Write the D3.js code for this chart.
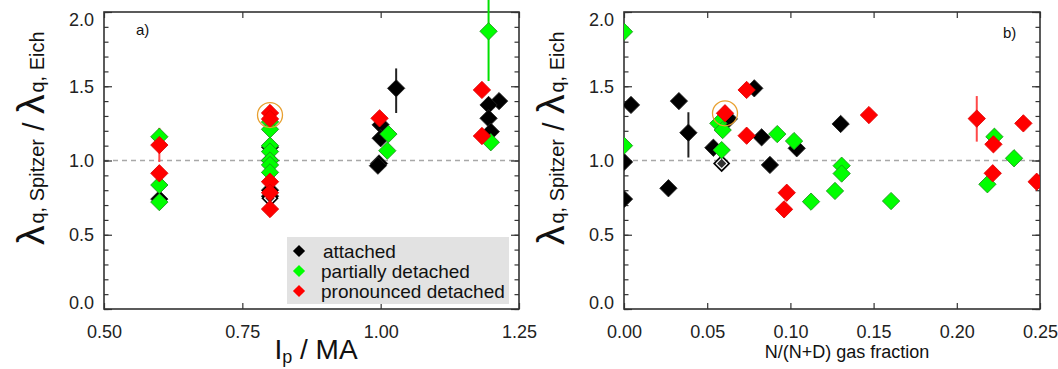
<!DOCTYPE html>
<html>
<head>
<meta charset="utf-8">
<script src="https://cdn.jsdelivr.net/npm/d3@7"></script>
<style>
  body { margin: 0; background: #fff; }
  svg { display: block; }
</style>
</head>
<body>
<div id="chart"></div>
<script>

// Data: [x, lambda ratio]

// panel a) : plasma current Ip / MA
var attachedA = [
    [0.60, 0.74],
    [0.80, 1.09], [0.80, 1.00], [0.80, 0.80], [0.80, 0.76],
    [0.997, 0.98], [0.995, 0.965], [1.00, 1.24], [1.00, 1.15], [1.028, 1.486],
    [1.214, 1.40], [1.195, 1.374], [1.195, 1.284], [1.199, 1.194]
];
var attachedOpenA = [[0.80, 0.745]];
var partialA = [
    [0.60, 1.16], [0.60, 0.835], [0.60, 0.72],
    [0.80, 1.26], [0.80, 1.21], [0.80, 1.10], [0.80, 1.06], [0.80, 1.00], [0.80, 0.97], [0.80, 0.92],
    [1.014, 1.178], [1.012, 1.066],
    [1.195, 1.87], [1.199, 1.123]
];
var pronouncedA = [
    [0.60, 1.104], [0.60, 0.914],
    [0.80, 1.32], [0.80, 1.28], [0.80, 0.857], [0.80, 0.783], [0.80, 0.673],
    [0.998, 1.284],
    [1.183, 1.475], [1.183, 1.165]
];
// error bars: [x, low, high, class]
var errorsA = [
    [0.60, 0.99, 1.22, "pronounced"],
    [1.028, 1.32, 1.62, "attached"],
    [1.195, 1.535, 2.10, "partial"]
];
var highlightA = [0.80, 1.306];

// panel b) : N/(N+D) gas fraction
var attachedB = [
    [0.0, 0.99], [0.0, 0.74], [0.0042, 1.374], [0.033, 1.40], [0.0267, 0.813],
    [0.0387, 1.187], [0.0537, 1.086], [0.063, 1.28], [0.0783, 1.486], [0.0827, 1.156],
    [0.0877, 0.97], [0.1038, 1.082], [0.1302, 1.246]
];
var attachedOpenB = [[0.0587, 0.98]];
var partialB = [
    [0.0, 1.867], [0.0, 1.10], [0.0567, 1.25], [0.0593, 1.205], [0.0587, 1.07],
    [0.0921, 1.178], [0.1022, 1.131], [0.1124, 0.723], [0.1268, 0.795],
    [0.1308, 0.965], [0.1308, 0.912], [0.1605, 0.727],
    [0.2226, 1.16], [0.2344, 1.015], [0.2184, 0.84]
];
var pronouncedB = [
    [0.0607, 1.318], [0.0737, 1.475], [0.0737, 1.167], [0.0978, 0.783], [0.0962, 0.671],
    [0.1472, 1.306], [0.212, 1.282], [0.222, 1.109], [0.2216, 0.914], [0.240, 1.25], [0.248, 0.857]
];
var errorsB = [
    [0.0387, 1.02, 1.325, "attached"],
    [0.212, 1.127, 1.434, "pronounced"]
];
var highlightB = [0.0607, 1.318];

// ticks
var yTicks = [0.0, 0.5, 1.0, 1.5, 2.0];
var xTicksA = [0.50, 0.75, 1.00, 1.25];
var xTicksB = [0.00, 0.05, 0.10, 0.15, 0.20, 0.25];
var legendLabels = ["attached", "partially detached", "pronounced detached"];

var fill = { attached: "#000000", partial: "#00ff00", pronounced: "#ff0000" };
var barColor = { attached: "#222222", partial: "#00e000", pronounced: "#ff4848" };

var font = "'Liberation Sans', Arial, sans-serif";

svgWidth = 1058;
svgHeight = 369;

svg = d3.select("#chart")
    .append("svg")
    .attr("width", svgWidth)
    .attr("height", svgHeight);

var diamond = d3.symbol().type(d3.symbolSquare).size(150);
var smallDiamond = d3.symbol().type(d3.symbolSquare).size(74);

function drawPanel(p) {

    var width = p.right - p.left;
    var height = 297;

    var g = svg.append("g")
        .attr("transform", `translate(${p.left}, 12)`);

    var x = d3.scaleLinear().domain(p.xDomain).range([0, width]);
    var y = d3.scaleLinear().domain([0, 2]).range([height, 0]);

    g.append("clipPath").attr("id", "clip" + p.id)
        .append("rect").attr("width", width).attr("height", height);

    // dashed reference line at 1.0
    g.append("line")
        .attr("x1", 0).attr("x2", width)
        .attr("y1", y(1)).attr("y2", y(1))
        .attr("stroke", "#a8a8a8")
        .attr("stroke-width", 1.3)
        .attr("stroke-dasharray", "5,4");

    // minor and major ticks on all four sides, pointing inwards
    var yMinor = d3.range(0, 2.001, 0.1);
    g.append("g").call(d3.axisLeft(y).tickValues(yMinor).tickSizeInner(-4.5).tickSizeOuter(0).tickFormat(""));
    g.append("g").attr("transform", `translate(${width},0)`)
        .call(d3.axisRight(y).tickValues(yMinor).tickSizeInner(-4.5).tickSizeOuter(0).tickFormat(""));
    g.append("g").attr("transform", `translate(${width},0)`)
        .call(d3.axisRight(y).tickValues(yTicks).tickSizeInner(-8).tickSizeOuter(0).tickFormat(""));

    var left = g.append("g")
        .call(d3.axisLeft(y).tickValues(yTicks).tickSizeInner(-8).tickSizeOuter(0)
            .tickPadding(10).tickFormat(d3.format(".1f")));
    left.selectAll("text").filter(d => d == 2).attr("y", 8);
    left.selectAll("text").filter(d => d == 0).attr("y", -6);

    g.append("g")
        .call(d3.axisTop(x).tickValues(p.xTicks).tickSizeInner(-6).tickSizeOuter(0).tickFormat(""));
    g.append("g").attr("transform", `translate(0,${height})`)
        .call(d3.axisBottom(x).tickValues(p.xTicks).tickSizeInner(-6).tickSizeOuter(0)
            .tickPadding(16).tickFormat(d3.format(".2f")));

    g.selectAll(".domain").remove();
    g.selectAll(".tick line").attr("stroke", "#333").attr("stroke-width", 1.2);
    g.selectAll(".tick text")
        .attr("font-family", font)
        .attr("font-size", 18)
        .attr("fill", "#222");

    // frame
    g.append("rect")
        .attr("width", width).attr("height", height)
        .attr("fill", "none")
        .attr("stroke", "#333")
        .attr("stroke-width", 1.6);

    // error bars (not clipped)
    g.selectAll(".err")
        .data(p.errors)
        .enter().append("line")
        .attr("x1", d => x(d[0])).attr("x2", d => x(d[0]))
        .attr("y1", d => y(d[1])).attr("y2", d => y(d[2]))
        .attr("stroke", d => barColor[d[3]])
        .attr("stroke-width", 2);

    var marks = g.append("g").attr("clip-path", `url(#clip${p.id})`);

    function series(data, cls) {
        marks.selectAll(".m-" + cls)
            .data(data)
            .enter().append("path")
            .attr("d", diamond)
            .attr("transform", d => `translate(${x(d[0])},${y(d[1])}) rotate(45)`)
            .attr("fill", fill[cls])
            .attr("stroke", cls == "partial" ? "#1f8f1f" : (cls == "pronounced" ? "#e00000" : "#222"))
            .attr("stroke-width", 0.8);
    }

    series(p.attached, "attached");
    // open-looking attached points
    marks.selectAll(".m-open")
        .data(p.attachedOpen)
        .enter().append("g")
        .attr("transform", d => `translate(${x(d[0])},${y(d[1])}) rotate(45)`)
        .each(function() {
            d3.select(this).append("path").attr("d", diamond).attr("fill", "#000");
            d3.select(this).append("path").attr("d", d3.symbol().type(d3.symbolSquare).size(60))
                .attr("fill", "#333").attr("stroke", "#fff").attr("stroke-width", 1.2);
        });
    series(p.partial, "partial");
    series(p.pronounced, "pronounced");

    // highlighted point
    g.append("circle")
        .attr("cx", x(p.highlight[0]))
        .attr("cy", y(p.highlight[1]))
        .attr("r", 12.5)
        .attr("fill", "none")
        .attr("stroke", "#e8a030")
        .attr("stroke-width", 1.3);

    // panel letter
    g.append("text")
        .attr("x", p.letterX).attr("y", p.letterY)
        .attr("font-family", font)
        .attr("font-size", 15)
        .attr("fill", "#111")
        .text(p.letter);

    // y title: lambda_q,Spitzer / lambda_q,Eich
    var yt = svg.append("text")
        .attr("transform", `translate(${p.left - 60},245) rotate(-90)`)
        .attr("font-family", font)
        .attr("fill", "#111");
    yt.append("tspan").attr("font-size", 39).text("λ");
    yt.append("tspan").attr("font-size", 20).attr("dx", 2).text("q, Spitzer");
    yt.append("tspan").attr("font-size", 30).text(" / ");
    yt.append("tspan").attr("font-size", 39).text("λ");
    yt.append("tspan").attr("font-size", 20).attr("dx", 2).text("q, Eich");

    return g;
}

var ga = drawPanel({
    id: "a", left: 104, right: 519, xDomain: [0.5, 1.25], xTicks: xTicksA,
    attached: attachedA, attachedOpen: attachedOpenA, partial: partialA, pronounced: pronouncedA,
    errors: errorsA, highlight: highlightA, letter: "a)", letterX: 32, letterY: 23
});

var gb = drawPanel({
    id: "b", left: 624, right: 1040, xDomain: [0, 0.25], xTicks: xTicksB,
    attached: attachedB, attachedOpen: attachedOpenB, partial: partialB, pronounced: pronouncedB,
    errors: errorsB, highlight: highlightB, letter: "b)", letterX: 379, letterY: 26
});

// x titles
var xt = svg.append("text")
    .attr("x", 316).attr("y", 359)
    .attr("text-anchor", "middle")
    .attr("font-family", font)
    .attr("fill", "#111");
xt.append("tspan").attr("font-size", 28).text("I");
xt.append("tspan").attr("font-size", 18).attr("dy", 4).text("p");
xt.append("tspan").attr("font-size", 28).attr("dy", -4).text(" / MA");

svg.append("text")
    .attr("x", 847).attr("y", 358)
    .attr("text-anchor", "middle")
    .attr("font-family", font)
    .attr("font-size", 18)
    .attr("fill", "#111")
    .text("N/(N+D) gas fraction");

// legend in panel a
var legend = svg.append("g").attr("transform", "translate(287,237)");
legend.append("rect")
    .attr("width", 222).attr("height", 67)
    .attr("fill", "#e2e2e2");

var legendKeys = ["attached", "partial", "pronounced"];
var rowY = d3.scalePoint().domain(legendKeys).range([14, 54]);

legend.selectAll(".lm")
    .data(legendKeys)
    .enter().append("path")
    .attr("d", smallDiamond)
    .attr("transform", d => `translate(12,${rowY(d)}) rotate(45)`)
    .attr("fill", d => fill[d]);

legend.selectAll(".lt")
    .data(legendKeys)
    .enter().append("text")
    .attr("x", (d, i) => i == 0 ? 36 : 34)
    .attr("y", d => rowY(d) + 7)
    .attr("font-family", font)
    .attr("font-size", 19)
    .attr("fill", "#111")
    .text((d, i) => legendLabels[i]);

</script>
</body>
</html>
